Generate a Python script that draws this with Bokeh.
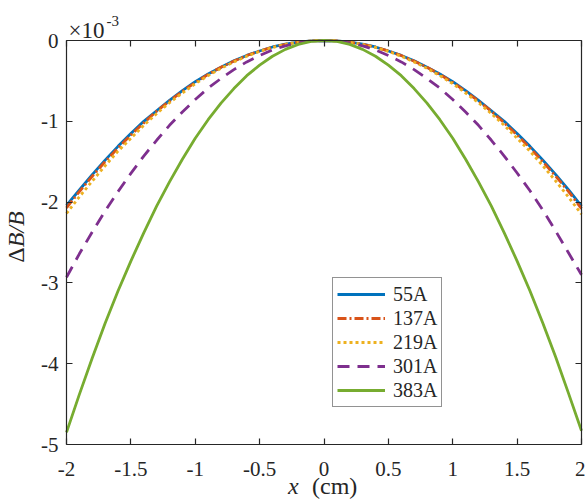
from bokeh.plotting import figure
from bokeh.models import (Range1d, FixedTicker, Label, Legend, LegendItem, LinearAxis)
from bokeh.embed import file_html
from bokeh.resources import INLINE
import math

# ---- data (values in units of 1e-3) ----
x = [-2.0, -1.9, -1.8, -1.7, -1.6, -1.5, -1.4, -1.3, -1.2, -1.1, -1.0,
     -0.9, -0.8, -0.7, -0.6, -0.5, -0.4, -0.3, -0.2, -0.1, 0.0,
     0.1, 0.2, 0.3, 0.4, 0.5, 0.6, 0.7, 0.8, 0.9, 1.0,
     1.1, 1.2, 1.3, 1.4, 1.5, 1.6, 1.7, 1.8, 1.9, 2.0]
a55 = [-2.04, -1.85, -1.66, -1.48, -1.31, -1.15, -1.00, -0.87, -0.74, -0.62, -0.51,
       -0.415, -0.33, -0.25, -0.185, -0.13, -0.08, -0.046, -0.02, -0.005, 0.0,
       -0.005, -0.02, -0.046, -0.08, -0.13, -0.185, -0.25, -0.33, -0.415, -0.51,
       -0.62, -0.74, -0.87, -1.00, -1.15, -1.31, -1.48, -1.66, -1.85, -2.05]
a137 = [-2.07, -1.87, -1.68, -1.50, -1.33, -1.17, -1.02, -0.875, -0.75, -0.63, -0.52,
        -0.42, -0.33, -0.255, -0.186, -0.13, -0.083, -0.047, -0.021, -0.005, 0.0,
        -0.005, -0.021, -0.047, -0.083, -0.13, -0.186, -0.255, -0.33, -0.42, -0.52,
        -0.63, -0.75, -0.875, -1.02, -1.17, -1.33, -1.50, -1.68, -1.87, -2.08]
a219 = [-2.14, -1.935, -1.74, -1.55, -1.37, -1.21, -1.05, -0.905, -0.77, -0.65, -0.535,
        -0.435, -0.345, -0.265, -0.195, -0.135, -0.086, -0.048, -0.021, -0.005, 0.0,
        -0.005, -0.021, -0.048, -0.086, -0.135, -0.195, -0.265, -0.345, -0.435, -0.535,
        -0.65, -0.77, -0.905, -1.05, -1.21, -1.37, -1.55, -1.74, -1.94, -2.15]
a301 = [-2.93, -2.64, -2.37, -2.11, -1.87, -1.645, -1.43, -1.235, -1.05, -0.885, -0.73,
        -0.59, -0.47, -0.36, -0.265, -0.185, -0.117, -0.066, -0.029, -0.007, 0.0,
        -0.007, -0.029, -0.066, -0.117, -0.185, -0.265, -0.36, -0.47, -0.59, -0.73,
        -0.885, -1.05, -1.235, -1.43, -1.64, -1.86, -2.10, -2.36, -2.63, -2.90]
a383 = [-4.85, -4.38, -3.93, -3.50, -3.10, -2.73, -2.38, -2.05, -1.75, -1.47, -1.21,
        -0.98, -0.775, -0.595, -0.435, -0.305, -0.195, -0.11, -0.048, -0.012, 0.0,
        -0.012, -0.048, -0.11, -0.195, -0.305, -0.435, -0.595, -0.775, -0.98, -1.21,
        -1.47, -1.75, -2.05, -2.38, -2.73, -3.10, -3.50, -3.92, -4.37, -4.83]

series_names = ["55A", "137A", "219A", "301A", "383A"]
series_values = [a55, a137, a219, a301, a383]

x_ticks = [-2, -1.5, -1, -0.5, 0, 0.5, 1, 1.5, 2]
x_tick_labels = ["-2", "-1.5", "-1", "-0.5", "0", "0.5", "1", "1.5", "2"]
y_ticks = [0, -1, -2, -3, -4, -5]
y_tick_labels = ["0", "-1", "-2", "-3", "-4", "-5"]

# ---- styles ----
colors = ["#0072BD", "#D95319", "#EDB120", "#7E2F8E", "#77AC30"]
dashes = ["solid", "9 3 2 3", "3 3", "12 8", "solid"]
FONT = "Liberation Serif"
AX = "#262626"
W, H = 585, 499
FL, FR, FT, FB = 66, 581, 40, 444   # axes box in canvas pixels
XMIN, XMAX, YMIN, YMAX = -2.0, 2.0, -5.0, 0.0

sx = (FR - FL) / (XMAX - XMIN)
sy = (FB - FT) / (YMAX - YMIN)
x_range = Range1d(XMIN - FL / sx, XMAX + (W - FR) / sx)
y_range = Range1d(YMIN - (H - FB) / sy, YMAX + FT / sy)

p = figure(width=W, height=H, output_backend="svg", toolbar_location=None,
           x_range=x_range, y_range=y_range,
           min_border_left=0, min_border_right=0, min_border_top=0,
           min_border_bottom=0)
p.xgrid.visible = False
p.ygrid.visible = False
p.outline_line_color = None
p.background_fill_color = "white"
p.border_fill_color = "white"

def style_axis(ax, ticks, labels, loc, bounds, show_labels=True):
    ax.fixed_location = loc
    ax.bounds = bounds
    ax.ticker = FixedTicker(ticks=ticks)
    ax.minor_tick_line_color = None
    ax.major_tick_in = 6
    ax.major_tick_out = 0
    ax.axis_line_color = AX
    ax.axis_line_width = 1.2
    ax.major_tick_line_color = AX
    ax.major_tick_line_width = 1.2
    if show_labels:
        ax.major_label_overrides = {t: l for t, l in zip(ticks, labels)}
        ax.major_label_text_font = FONT
        ax.major_label_text_font_size = "21px"
        ax.major_label_text_color = AX
    else:
        ax.major_label_text_color = None
        ax.major_label_text_font_size = "1px"
        ax.major_label_standoff = 0

style_axis(p.xaxis[0], x_ticks, x_tick_labels, YMIN, (XMIN, XMAX))
p.xaxis[0].major_label_standoff = 17
style_axis(p.yaxis[0], y_ticks, y_tick_labels, XMIN, (YMIN, YMAX))
p.yaxis[0].major_label_standoff = 8

top = LinearAxis()
style_axis(top, x_ticks, x_tick_labels, YMAX, (XMIN, XMAX), show_labels=False)
p.add_layout(top, "above")
right = LinearAxis()
style_axis(right, y_ticks, y_tick_labels, XMAX, (YMIN, YMAX), show_labels=False)
p.add_layout(right, "right")

items = []
for name, vals, c, d in zip(series_names, series_values, colors, dashes):
    r = p.line(x, vals, line_color=c, line_dash=d, line_width=2.8)
    items.append(LegendItem(label=name, renderers=[r]))

legend = Legend(items=items, location=(332, H - 407))
legend.label_text_font = FONT
legend.label_text_font_size = "20px"
legend.label_text_color = AX
legend.border_line_color = AX
legend.border_line_width = 1.2
legend.background_fill_color = "white"
legend.background_fill_alpha = 1.0
legend.padding = 4
legend.spacing = 0
legend.margin = 0
legend.glyph_width = 48
legend.glyph_height = 24
legend.label_height = 24
legend.label_standoff = 8
p.add_layout(legend, "center")

# exponent label
p.add_layout(Label(x=XMIN, y=YMAX, x_offset=2, y_offset=10, text="\u00d710",
                   text_font=FONT, text_font_size="23px", text_color=AX,
                   text_baseline="alphabetic", text_align="left"))
p.add_layout(Label(x=XMIN, y=YMAX, x_offset=40, y_offset=20, text="-3",
                   text_font=FONT, text_font_size="15px", text_color=AX,
                   text_baseline="alphabetic", text_align="left"))

# x axis label: "x  (cm)"
p.add_layout(Label(x=0, y=YMIN, x_offset=-36, y_offset=-(H - FB) + 1, text="x",
                   text_font=FONT, text_font_style="italic", text_font_size="24px",
                   text_color=AX, text_baseline="bottom", text_align="left"))
p.add_layout(Label(x=0, y=YMIN, x_offset=-12, y_offset=-(H - FB) + 1, text="(cm)",
                   text_font=FONT, text_font_size="24px",
                   text_color=AX, text_baseline="bottom", text_align="left"))

# y axis label: "ΔB/B"
p.add_layout(Label(x=XMIN, y=-2.56, x_offset=-51, text="\u0394",
                   text_font=FONT, text_font_size="24px", angle=math.pi / 2,
                   text_color=AX, text_baseline="alphabetic", text_align="right"))
p.add_layout(Label(x=XMIN, y=-2.56, x_offset=-51, text="B/B",
                   text_font=FONT, text_font_style="italic", text_font_size="24px",
                   angle=math.pi / 2,
                   text_color=AX, text_baseline="alphabetic", text_align="left"))

open("out.html", "w").write(file_html(p, INLINE))
